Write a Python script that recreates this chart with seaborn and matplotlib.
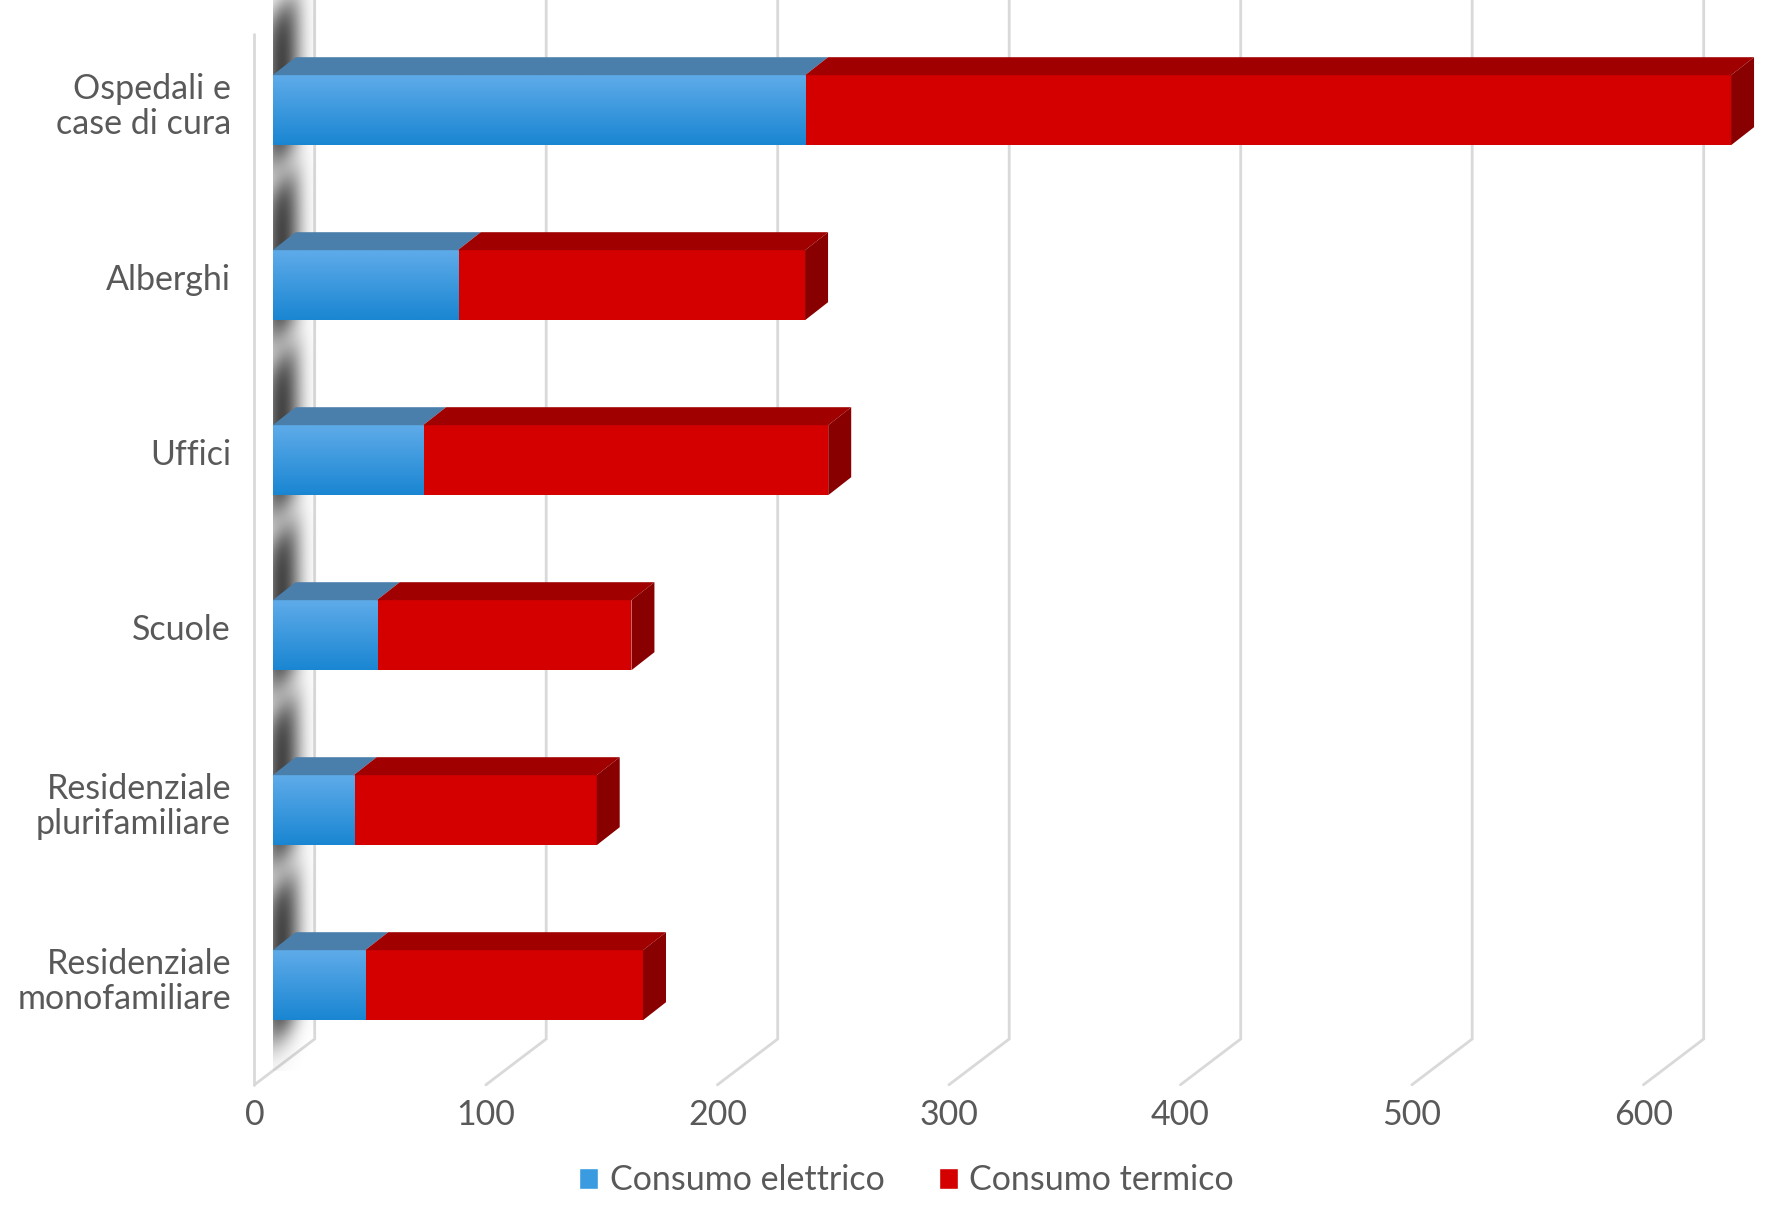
import numpy as np
import pandas as pd
import matplotlib
matplotlib.use("Agg")
import matplotlib.pyplot as plt
import seaborn as sns
from matplotlib.patches import Polygon, Patch
from matplotlib.transforms import ScaledTranslation
from matplotlib.colors import LinearSegmentedColormap

############################################################
# data

categories = ["Ospedali e\ncase di cura", "Alberghi", "Uffici", "Scuole",
              "Residenziale\nplurifamiliare", "Residenziale\nmonofamiliare"]
consumo_elettrico = [230, 80, 65, 45, 35, 40]
consumo_termico = [400, 150, 175, 110, 105, 120]
x_ticks = [0, 100, 200, 300, 400, 500, 600]
series_labels = ["Consumo elettrico", "Consumo termico"]

############################################################
# styling

BLUE_TOP, BLUE_BOTTOM = "#5eabe9", "#1a86d2"
BLUE_FACE = "#3a9be0"
BLUE_ROOF = "#4a7eab"
RED_FACE, RED_ROOF, RED_SIDE = "#d40000", "#a00000", "#880000"
GRID = "#d9d9d9"
TEXT = "#595959"

sns.set_theme(style="white")
plt.rcParams["font.family"] = ["Lato", "DejaVu Sans"]

DPI = 100
W, H = 1772, 1207
fig = plt.figure(figsize=(W / DPI, H / DPI), dpi=DPI)

# axes = the plane of the bar front faces
LEFT_PX = 272.6
BOTTOM_PX = 1071.0
PX_X = 2.315   # pixels per unit of value
PX_Y = 175.0   # pixels per category step
ax = fig.add_axes([LEFT_PX / W, 1 - BOTTOM_PX / H, 1 - LEFT_PX / W, BOTTOM_PX / H])

Y_TOP = -110.2 / PX_Y
Y_BOT = 5 + (BOTTOM_PX - 985.2) / PX_Y
X_MAX = (W - LEFT_PX) / PX_X


def ux(px):
    return px / PX_X


def uy(px):
    return px / PX_Y


def sigm(z):
    return 1 / (1 + np.exp(-z))


df = pd.DataFrame({
    "categoria": categories,
    "elettrico": consumo_elettrico,
    "totale": np.array(consumo_elettrico) + np.array(consumo_termico),
})

# front faces
sns.barplot(data=df, x="totale", y="categoria", orient="h", color=RED_FACE,
            saturation=1, width=0.4, linewidth=0, errorbar=None, ax=ax, zorder=3)
sns.barplot(data=df, x="elettrico", y="categoria", orient="h", color=BLUE_FACE,
            saturation=1, width=0.4, linewidth=0, errorbar=None, ax=ax, zorder=4)

# vertical gradient on the blue faces
blue_cmap = LinearSegmentedColormap.from_list("bl", [BLUE_TOP, BLUE_BOTTOM])
grad = np.linspace(0, 1, 64).reshape(-1, 1)
for p in ax.containers[1]:
    x0, w, y0, h = p.get_x(), p.get_width(), p.get_y(), p.get_height()
    im = ax.imshow(grad, cmap=blue_cmap, extent=(x0, x0 + w, y0 + h, y0),
                   origin="upper", aspect="auto", zorder=4.5, interpolation="bilinear")
    im.set_clip_path(p)

# 3d roof and side faces
dx, dy = ux(23), uy(18)
for i, (e, tot) in enumerate(zip(df["elettrico"], df["totale"])):
    yt, yb = i - 0.2, i + 0.2
    ax.add_patch(Polygon([(0, yt), (e, yt), (e + dx, yt - dy), (dx, yt - dy)],
                         facecolor=BLUE_ROOF, edgecolor="none", zorder=5, clip_on=False))
    ax.add_patch(Polygon([(e, yt), (tot, yt), (tot + dx, yt - dy), (e + dx, yt - dy)],
                         facecolor=RED_ROOF, edgecolor="none", zorder=5, clip_on=False))
    ax.add_patch(Polygon([(tot, yt), (tot + dx, yt - dy), (tot + dx, yb - dy), (tot, yb)],
                         facecolor=RED_SIDE, edgecolor="none", zorder=5, clip_on=False))

# soft shadow of the bars on the left wall
slope = 0.757 * PX_X / PX_Y
xs = np.linspace(ux(-14), ux(42), 140)
for i in range(len(categories)):
    ys = np.linspace(i - 0.8, i + 0.55, 280)
    X, Y = np.meshgrid(xs, ys)
    Yp = Y + slope * X
    a_x = sigm((X - ux(-5)) / ux(2.5)) * sigm((ux(27) - X) / ux(5))
    a_x *= 0.75 + 0.25 * np.exp(-((X - ux(10)) / ux(12)) ** 2)
    a_y = sigm((Yp - (i - 0.55)) / 0.06) * sigm(((i + 0.32) - Yp) / 0.06)
    rgba = np.zeros(X.shape + (4,))
    rgba[..., :3] = 0.18
    rgba[..., 3] = 0.92 * a_x * a_y
    ax.imshow(rgba, extent=(xs[0], xs[-1], ys[-1], ys[0]), origin="upper",
              aspect="auto", zorder=1, interpolation="bilinear")

# back-wall gridlines with floor diagonals
back_dx, back_dy = ux(42.1), uy(32)
front_dx, front_dy = ux(18.2), uy(13.8)
for v in x_ticks:
    ax.plot([v + back_dx, v + back_dx, v - front_dx],
            [Y_TOP, Y_BOT - back_dy, Y_BOT + front_dy],
            color=GRID, lw=2, zorder=0.5, clip_on=False, solid_joinstyle="miter")
# front edge of the left wall
ax.plot([-front_dx, -front_dx], [Y_TOP + uy(34), Y_BOT + front_dy],
        color=GRID, lw=2, zorder=0.5, clip_on=False)

ax.set_xlim(0, X_MAX)
ax.set_ylim(Y_BOT, Y_TOP)
for s in ax.spines.values():
    s.set_visible(False)
ax.grid(False)
ax.set_xlabel("")
ax.set_ylabel("")

ax.set_xticks(x_ticks)
ax.set_xticklabels([str(v) for v in x_ticks])
ax.tick_params(axis="x", length=0, pad=10, labelsize=24.5, labelcolor=TEXT)
ax.tick_params(axis="y", length=0, pad=30, labelsize=24.5, labelcolor=TEXT)

x_shift = ScaledTranslation(-18.2 / DPI, -13.8 / DPI, fig.dpi_scale_trans)
for lbl in ax.get_xticklabels():
    lbl.set_transform(lbl.get_transform() + x_shift)
y_shift = ScaledTranslation(0, 8 / DPI, fig.dpi_scale_trans)
for lbl in ax.get_yticklabels():
    lbl.set_linespacing(1.12)
    lbl.set_transform(lbl.get_transform() + y_shift)

handles = [Patch(facecolor=BLUE_FACE, label=series_labels[0]),
           Patch(facecolor=RED_FACE, label=series_labels[1])]
fig.legend(handles=handles, loc="center", bbox_to_anchor=(0.5116, 0.022), ncol=2,
           frameon=False, fontsize=24.5, handlelength=0.55, handleheight=0.55,
           handletextpad=0.35, columnspacing=1.6, labelcolor=TEXT)

fig.savefig("out.png", dpi=DPI)
